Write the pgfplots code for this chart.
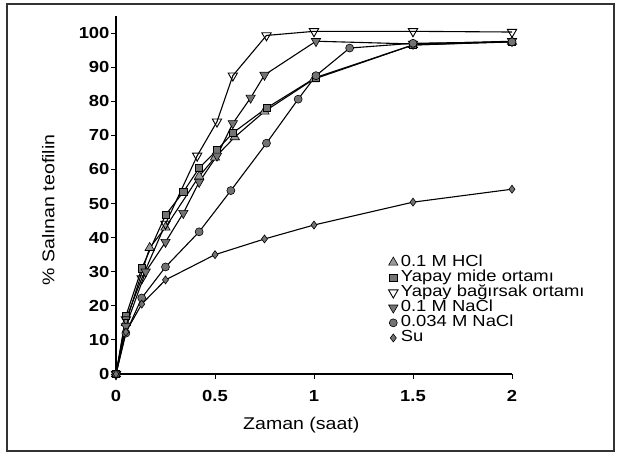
\documentclass[border=0pt]{standalone}
\usepackage{fontspec}
\setmainfont[FakeStretch=1.15]{Liberation Sans}
\usepackage{pgfplots}
\pgfplotsset{compat=1.18}
\begin{document}
\begin{tikzpicture}[x=1pt,y=1pt]
\path (-116,-81) rectangle (502,374);
\draw[line width=1.6pt, black!80] (-109,-77) rectangle (498,370);
\begin{axis}[
  at={(0,0)}, anchor=south west,
  scale only axis, width=396pt, height=358pt,
  xmin=0, xmax=2, ymin=0, ymax=105,
  clip=false,
  axis x line*=bottom, axis y line*=left,
  axis line style={-, line width=1.2pt},
  xtick={0,0.5,1,1.5,2}, ytick={0,10,...,100},
  tick align=outside, major tick length=5pt,
  tick style={line width=1pt, black},
  ticklabel style={font=\fontsize{16}{16}\selectfont\bfseries},
  /pgf/number format/assume math mode=true,
  xticklabel style={yshift=-8pt},
  yticklabel style={xshift=2pt},
  xlabel={Zaman (saat)},
  ylabel={\% Salınan teofilin},
  label style={font=\fontsize{17}{17}\selectfont},
  xlabel style={at={(axis description cs:0.468,-0.142)}, anchor=center},
  ylabel style={at={(axis description cs:-0.171,0.458)}, anchor=center},
  legend style={at={(axis description cs:0.68,0.338)}, anchor=north west,
    draw=none, fill=none, font=\fontsize{16}{16}\selectfont, row sep=0.6pt,
    nodes={inner sep=0.5pt, text height=10.5pt, text depth=3pt}},
  legend cell align=left,
  legend image code/.code={\path (0,0) (0.38cm,0);\draw[#1] plot coordinates {(0.15cm,0cm)};},
  every axis plot/.append style={line width=1.1pt, black, mark size=4pt},
]
\addplot[mark=triangle*, mark options={fill=black!40, draw=black, line width=0.6pt, scale=1.35}]
  coordinates {(0,0) (0.05,15) (0.17,37) (0.25,43) (0.42,58) (0.5,63.5) (0.6,69.5) (0.75,77) (1,86.5) (1.5,96.5) (2,97.5)};
\addplot[mark=square*, mark options={fill=black!55, draw=black, line width=0.6pt, scale=0.9}]
  coordinates {(0,0) (0.05,17) (0.13,31) (0.25,46.6) (0.34,53.4) (0.42,60.4) (0.51,65.7) (0.59,70.7) (0.76,78) (1.01,87) (1.5,96.5) (2,97.4)};
\addplot[mark=triangle, mark options={fill=white, draw=black, line width=0.9pt, rotate=180, scale=1.35}]
  coordinates {(0,0) (0.05,16) (0.13,28) (0.25,44) (0.41,64) (0.51,74) (0.59,87.5) (0.76,99.3) (1,100.5) (1.5,100.5) (2,100.3)};
\addplot[mark=triangle*, mark options={fill=black!55, draw=black, line width=0.6pt, rotate=180, scale=1.35}]
  coordinates {(0,0) (0.05,14) (0.15,30) (0.25,38.7) (0.34,47.2) (0.42,56.3) (0.51,64) (0.59,73.5) (0.68,81) (0.75,87.7) (1.01,97.6) (1.5,96.8) (2,97.6)};
\addplot[mark=*, mark options={fill=black!55, draw=black, line width=0.6pt}]
  coordinates {(0,0) (0.05,12) (0.13,22.3) (0.25,31.4) (0.42,41.7) (0.58,53.8) (0.76,67.7) (0.92,80.6) (1.01,87.5) (1.18,95.6) (1.5,97) (2,97.4)};
\addplot[mark=diamond*, mark options={fill=black!55, draw=black, line width=0.6pt}]
  coordinates {(0,0) (0.05,12.3) (0.13,20.5) (0.25,27.6) (0.5,35) (0.75,39.6) (1,43.7) (1.5,50.4) (2,54.2)};
\legend{0.1 M HCl, Yapay mide ortamı, Yapay bağırsak ortamı, 0.1 M NaCl, 0.034 M NaCl, Su}
\end{axis}
\end{tikzpicture}
\end{document}
